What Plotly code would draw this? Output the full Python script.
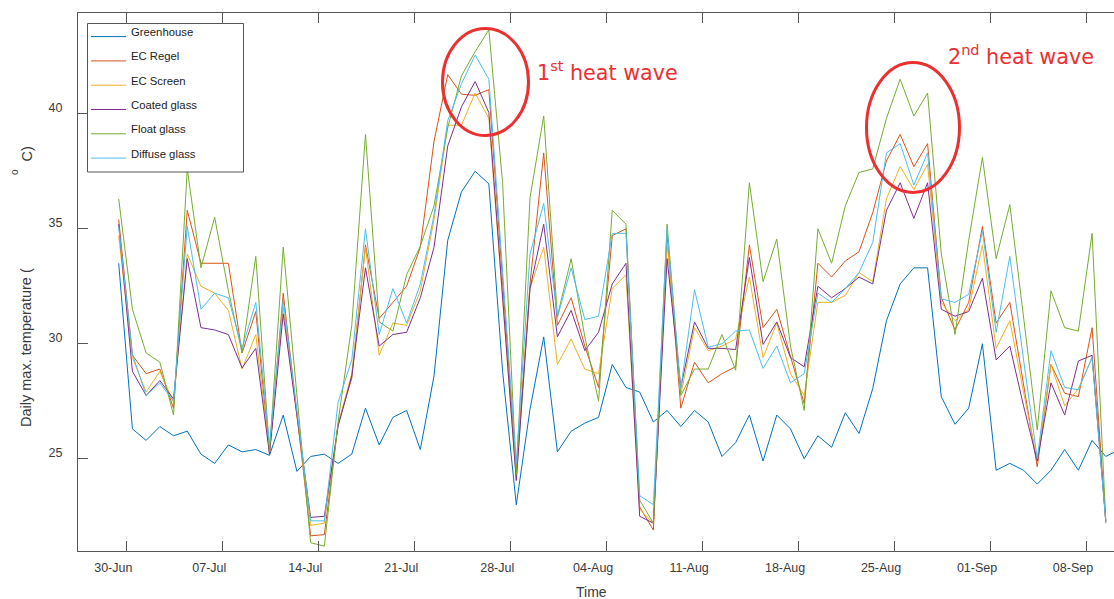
import pandas as pd
import plotly.graph_objects as go

# Daily maximum temperatures (°C), one value per day
first_day = "2019-06-29 10:40"

greenhouse = [33.5, 26.3, 25.8, 26.4, 26.0, 26.2, 25.2, 24.8, 25.6, 25.3,
              25.4, 25.15, 26.9, 24.45, 25.1, 25.2, 24.8, 25.2, 27.2, 25.6,
              26.8, 27.1, 25.4, 28.6, 34.5, 36.6, 37.5, 36.95, 28.8, 23.0,
              27.15, 30.3, 25.3, 26.2, 26.55, 26.8, 29.1, 28.1, 27.9, 26.6,
              27.1, 26.4, 27.1, 26.6, 25.1, 25.7, 26.9, 24.9, 26.9, 26.3,
              25.0, 26.0, 25.5, 27.0, 26.1, 28.05, 31.0, 32.6, 33.3, 33.3,
              27.7, 26.5, 27.2, 30.0, 24.5, 24.8, 24.5, 23.9, 24.5, 25.4,
              24.5, 25.8, 25.1, 25.4]

ec_regel = [35.4, 29.5, 28.7, 28.9, 27.2, 35.8, 33.5, 33.5, 33.5, 29.6,
            31.4, 25.2, 32.2, 26.95, 21.65, 21.7, 26.5, 28.5, 34.3, 31.1,
            31.8, 32.5, 34.2, 38.8, 41.7, 40.85, 40.8, 41.05, 32.75, 24.4,
            32.6, 38.3, 30.8, 32.0, 29.9, 28.1, 34.7, 35.0, 22.9, 21.9,
            34.7, 27.2, 29.2, 28.3, 28.7, 29.0, 34.3, 30.7, 31.5, 29.4,
            27.4, 33.5, 32.9, 33.6, 34.0, 35.7, 37.95, 39.1, 37.7, 38.7,
            32.0, 30.6, 31.8, 35.1, 30.9, 31.8, 28.2, 24.65, 29.1, 27.85,
            27.7, 30.7, 22.2]

ec_screen = [34.7, 29.4, 27.9, 28.8, 27.45, 33.9, 32.5, 32.2, 31.45, 28.9,
             30.4, 25.3, 31.6, 26.85, 22.1, 22.2, 26.5, 28.7, 34.2, 29.5,
             30.9, 30.8, 32.3, 35.4, 39.5, 39.5, 40.9, 39.8, 31.95, 24.1,
             32.4, 34.2, 29.1, 30.2, 28.9, 28.7, 32.4, 33.0, 22.8, 22.2,
             34.4, 27.8, 30.7, 29.7, 29.9, 30.2, 32.9, 29.4, 30.9, 28.7,
             27.75, 31.8, 31.8, 32.1, 33.1, 32.7, 36.3, 37.7, 36.7, 37.8,
             31.8, 31.0, 31.5, 34.3, 29.8, 31.0, 27.9, 24.9, 29.1, 27.3,
             28.05, 29.4, 22.3]

coated_glass = [35.2, 28.8, 27.75, 28.4, 27.6, 33.7, 30.7, 30.6, 30.4, 28.95,
                29.8, 25.2, 31.3, 26.9, 22.45, 22.5, 26.4, 28.6, 33.3, 29.9,
                30.4, 30.5, 32.0, 34.2, 38.6, 40.3, 41.4, 40.05, 32.0, 24.05,
                32.4, 35.2, 30.3, 31.45, 29.7, 30.5, 32.6, 33.5, 22.5, 22.2,
                33.7, 28.1, 30.95, 29.8, 29.8, 29.75, 33.75, 29.97, 30.95, 29.4,
                29.0, 32.5, 32.0, 32.4, 32.9, 32.6, 35.8, 37.0, 35.45, 37.0,
                31.5, 31.2, 31.4, 32.85, 29.3, 29.9, 27.3, 24.9, 28.3, 26.9,
                29.25, 29.5, 22.3]

float_glass = [36.3, 31.5, 29.6, 29.2, 26.9, 37.6, 33.3, 35.5, 32.3, 29.6,
               33.8, 25.3, 34.2, 27.8, 21.35, 21.2, 26.6, 30.8, 39.1, 30.95,
               30.55, 33.0, 34.25, 36.0, 39.4, 41.65, 42.7, 43.65, 37.0, 24.3,
               36.35, 39.9, 31.2, 33.7, 30.3, 27.5, 35.8, 35.2, 23.2, 22.2,
               35.2, 27.75, 28.9, 28.9, 30.4, 28.85, 37.0, 32.7, 34.55, 29.9,
               27.1, 35.0, 33.5, 36.0, 37.45, 37.6, 39.8, 41.5, 39.9, 40.9,
               33.9, 30.4, 34.5, 38.1, 33.7, 36.05, 31.1, 26.25, 32.3, 30.7,
               30.55, 34.8, 22.3]

diffuse_glass = [35.1, 29.55, 27.75, 28.3, 27.5, 35.1, 31.5, 32.2, 32.0, 29.8,
                 31.8, 25.6, 31.9, 27.1, 22.3, 22.3, 27.45, 29.3, 35.0, 30.4,
                 32.4, 30.9, 32.6, 35.6, 39.7, 41.3, 42.55, 41.5, 33.2, 24.8,
                 33.9, 36.1, 31.15, 33.3, 31.05, 31.2, 34.8, 34.8, 23.4, 23.0,
                 35.0, 28.05, 32.35, 29.85, 30.0, 30.55, 30.6, 28.93, 29.9, 28.3,
                 28.7, 32.2, 31.8, 32.4, 33.1, 34.4, 38.3, 38.7, 36.9, 38.3,
                 31.95, 31.8, 32.15, 34.9, 30.5, 33.8, 29.3, 25.0, 29.7, 28.1,
                 28.0, 29.4, 22.25]

series_names = ["Greenhouse", "EC Regel", "EC Screen", "Coated glass",
                "Float glass", "Diffuse glass"]
series_values = [greenhouse, ec_regel, ec_screen, coated_glass,
                 float_glass, diffuse_glass]
series_colors = ["#0072BD", "#D95319", "#EDB120", "#7E2F8E", "#77AC30", "#4DBEEE"]

tick_dates = pd.date_range("2019-06-30", "2019-09-08", freq="7D")
tick_labels = [d.strftime("%d-%b") for d in tick_dates]
y_ticks = [25, 30, 35, 40]

x_range = ["2019-06-26 11:25", "2019-09-10 01:00"]
y_range = [20.99, 44.38]

# Figure geometry (pixels)
W, H = 1114, 599
ML, MR, MT, MB = 78, 0, 13, 48
PW, PH = W - ML - MR, H - MT - MB


def px(x):
    return (x - ML) / PW


def py(y):
    return (H - MB - y) / PH


AXIS = "#555555"
TEXT = "#3a3a3a"
RED = "#ec2f2f"
FONT = "Arial, Liberation Sans, sans-serif"

fig = go.Figure()
for name, vals, col in zip(series_names, series_values, series_colors):
    dates = pd.date_range(first_day, periods=len(vals), freq="D")
    fig.add_trace(go.Scatter(x=dates, y=vals, mode="lines", name=name,
                             line=dict(color=col, width=1), showlegend=False))

# invisible trace so the top axis is drawn
fig.add_trace(go.Scatter(x=x_range, y=[None, None], xaxis="x2", showlegend=False,
                         hoverinfo="skip"))

axis_common = dict(showgrid=False, zeroline=False, showline=True, linecolor=AXIS,
                   linewidth=1, ticks="inside", ticklen=10, tickcolor=AXIS,
                   tickwidth=1)

fig.update_layout(
    width=W, height=H,
    margin=dict(l=ML, r=MR, t=MT, b=MB, pad=0),
    paper_bgcolor="white", plot_bgcolor="white",
    font=dict(family=FONT, color=TEXT, size=12.5),
    xaxis=dict(type="date", range=x_range, tickvals=tick_dates, ticktext=tick_labels,
               ticklabelstandoff=5, ticklabelshift=-13,
               tickfont=dict(size=12.5, color=TEXT), **axis_common),
    xaxis2=dict(type="date", range=x_range, overlaying="x", side="top",
                tickvals=tick_dates, showticklabels=False, **axis_common),
    yaxis=dict(range=y_range, tickvals=y_ticks, ticklabelstandoff=12,
               ticklabelshift=-6, tickfont=dict(size=12.5, color=TEXT), **axis_common),
    showlegend=False,
)

shapes = []
annotations = []

# Legend box with line samples
lx0, lx1, ly0, ly1 = 87.5, 243.5, 23.5, 172
shapes.append(dict(type="rect", xref="paper", yref="paper",
                   x0=px(lx0), x1=px(lx1), y0=py(ly1), y1=py(ly0),
                   line=dict(color=AXIS, width=1), fillcolor="white"))
for k, (name, col) in enumerate(zip(series_names, series_colors)):
    yl = 36.6 + 24.3 * k
    yt = 32.0 + 24.3 * k
    shapes.append(dict(type="line", xref="paper", yref="paper",
                       x0=px(91), x1=px(126), y0=py(yl), y1=py(yl),
                       line=dict(color=col, width=1)))
    annotations.append(dict(text=name, xref="paper", yref="paper",
                            x=px(128.5), y=py(yt), xanchor="left", yanchor="middle",
                            showarrow=False, font=dict(size=11.3, color="#222222",
                                                       family=FONT)))

# Heat wave markers
for (x0, x1, y0, y1) in [(442.5, 528.5, 28.5, 135.5), (866.5, 959.5, 62.5, 192.5)]:
    shapes.append(dict(type="circle", xref="paper", yref="paper",
                       x0=px(x0), x1=px(x1), y0=py(y1), y1=py(y0),
                       line=dict(color=RED, width=3)))

for txt, xl, yc in [("1<sup>st</sup> heat wave", 535, 71),
                    ("2<sup>nd</sup> heat wave", 946, 56)]:
    annotations.append(dict(text=txt, xref="paper", yref="paper", x=px(xl), y=py(yc),
                            xanchor="left", yanchor="middle", showarrow=False,
                            font=dict(family="DejaVu Sans", size=20.7, color=RED)))

# Axis titles
annotations.append(dict(text="Time", xref="paper", yref="paper", x=px(591), y=py(591.5),
                        xanchor="center", yanchor="middle", showarrow=False,
                        font=dict(size=14, color=TEXT, family=FONT)))
annotations.append(dict(text="Daily max. temperature (", xref="paper", yref="paper",
                        x=px(26), y=py(348), xanchor="center", yanchor="middle",
                        textangle=-90, showarrow=False,
                        font=dict(size=14.5, color=TEXT, family=FONT)))
annotations.append(dict(text="o", xref="paper", yref="paper",
                        x=px(14), y=py(172), xanchor="center", yanchor="middle",
                        textangle=-90, showarrow=False,
                        font=dict(size=10, color=TEXT, family=FONT)))
annotations.append(dict(text="C)", xref="paper", yref="paper",
                        x=px(26), y=py(154.5), xanchor="center", yanchor="middle",
                        textangle=-90, showarrow=False,
                        font=dict(size=14.5, color=TEXT, family=FONT)))

fig.update_layout(shapes=shapes, annotations=annotations)
fig.write_html("out.html")
